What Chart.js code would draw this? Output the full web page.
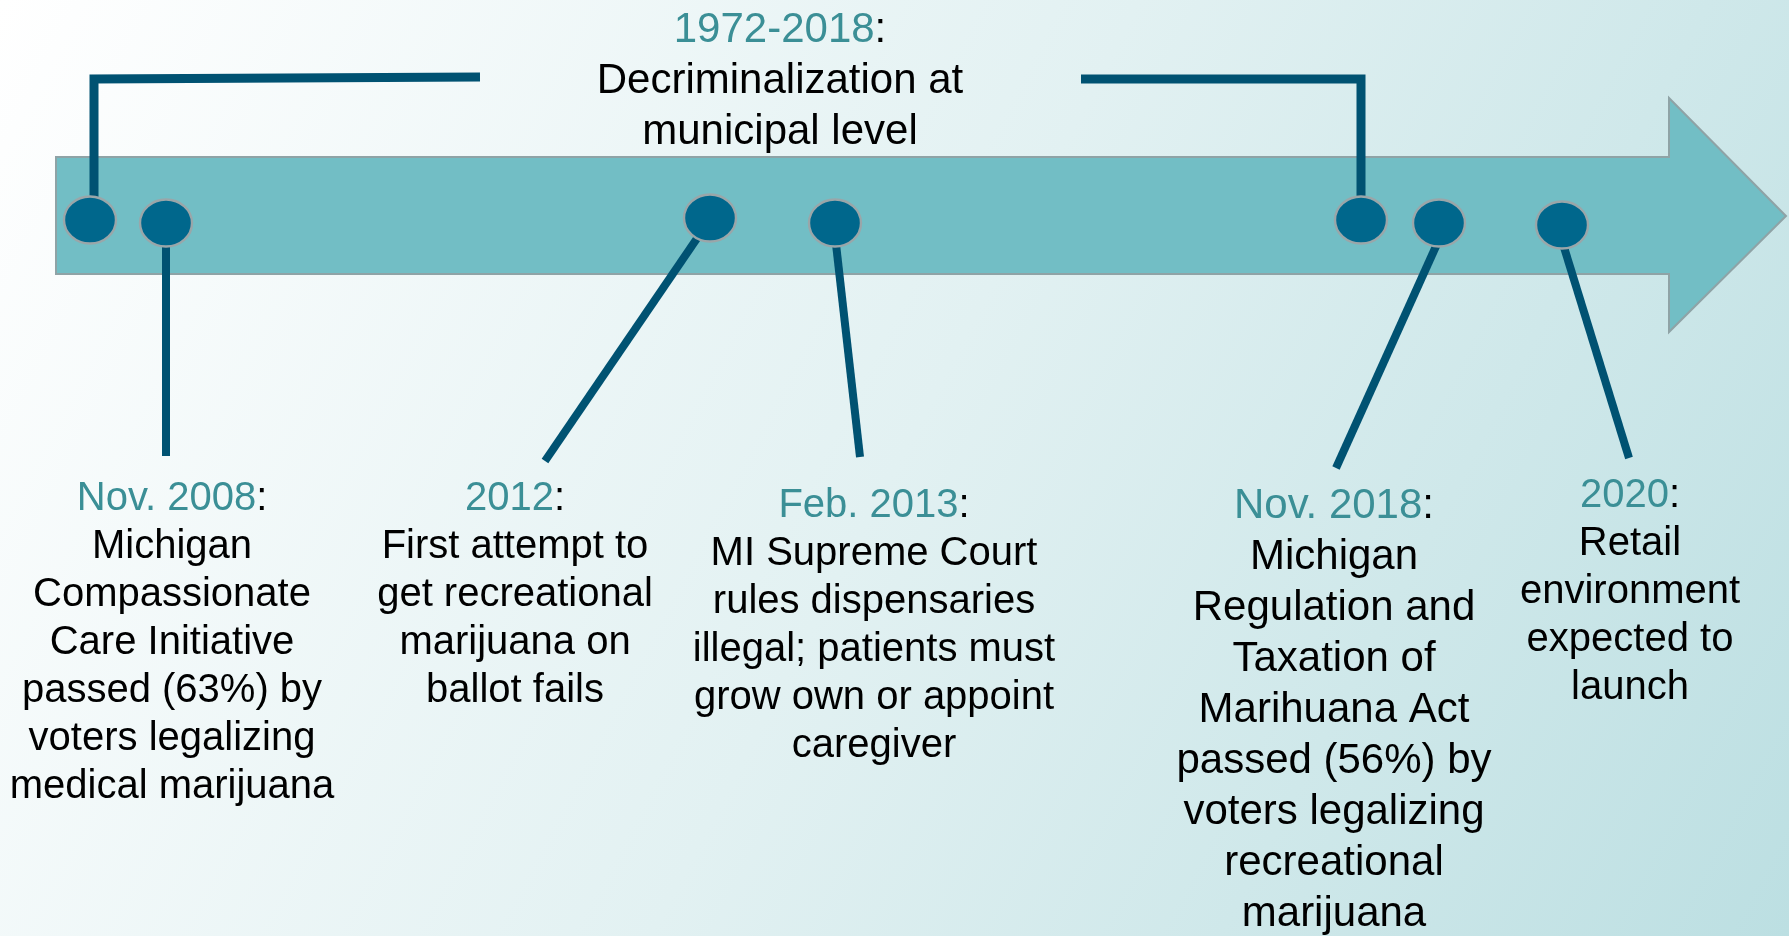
<!DOCTYPE html>
<html>
<head>
<meta charset="utf-8">
<script src="https://cdn.jsdelivr.net/npm/chart.js@4.4.1/dist/chart.umd.min.js"></script>
<style>
  html, body { margin: 0; padding: 0; background: #ffffff; }
  #wrap { width: 1789px; height: 936px; position: relative; }
</style>
</head>
<body>
<div id="wrap"><canvas id="c"></canvas></div>
<script>
// ---------- DATA ----------
const eventDates = ['1972-2018', 'Nov. 2008', '2012', 'Feb. 2013', 'Nov. 2018', '2020'];
const eventTexts = [
  ['Decriminalization at', 'municipal level'],
  ['Michigan', 'Compassionate', 'Care Initiative', 'passed (63%) by', 'voters legalizing', 'medical marijuana'],
  ['First attempt to', 'get recreational', 'marijuana on', 'ballot fails'],
  ['MI Supreme Court', 'rules dispensaries', 'illegal; patients must', 'grow own or appoint', 'caregiver'],
  ['Michigan', 'Regulation and', 'Taxation of', 'Marihuana Act', 'passed (56%) by', 'voters legalizing', 'recreational', 'marijuana'],
  ['Retail', 'environment', 'expected to', 'launch']
];
// label anchor (timeline units) for each event block
const labelX = [780, 172, 515, 874, 1334, 1630];
const labelY = [42, 510, 510, 517, 518, 507];     // first baseline
const labelStep = [51, 48, 48, 48, 51, 48];
const labelSize = [42, 40, 40, 40, 42, 40];

// markers along the timeline arrow
const markerX = [90, 166, 710, 835, 1361, 1439, 1562];
const markerY = [220, 223, 218, 223, 220, 223, 225];

// callout connectors (one per event)
const connectors = [
  [[94, 199], [94, 79], [480, 77]],
  [[1081, 79], [1361, 79], [1361, 199]],
  [[166, 244], [166, 456]],
  [[700, 234], [545, 461]],
  [[836, 244], [860, 457]],
  [[1437, 244], [1336, 468]],
  [[1563, 244], [1629, 458]]
];

// timeline arrow outline
const arrowShape = [[56, 157], [1669, 157], [1669, 98], [1786, 216], [1669, 332], [1669, 274], [56, 274]];

// ---------- STYLE ----------
const C_DATE = '#3b8f96';
const C_TEXT = '#000000';
const C_LINE = '#005272';
const C_DOT = '#00678c';
const C_DOT_EDGE = '#9aa6a9';
const C_BAR = '#72bec5';
const C_BAR_EDGE = '#8fa3a6';
const FONT = '"Liberation Sans", Arial, Helvetica, sans-serif';

// ellipse point style
function ellipseImg() {
  const cv = document.createElement('canvas');
  cv.width = 58; cv.height = 52;
  const g = cv.getContext('2d');
  g.beginPath();
  g.ellipse(29, 26, 26, 23.5, 0, 0, Math.PI * 2);
  g.fillStyle = C_DOT; g.fill();
  g.lineWidth = 2.4; g.strokeStyle = C_DOT_EDGE; g.stroke();
  return cv;
}

const bgPlugin = {
  id: 'bg',
  beforeDraw(chart) {
    const { ctx, width, height } = chart;
    const xs = chart.scales.x, ys = chart.scales.y;
    ctx.save();
    const gr = ctx.createLinearGradient(0, 0, width, height);
    gr.addColorStop(0, '#ffffff');
    gr.addColorStop(0.5, '#e2f1f2');
    gr.addColorStop(1, '#bcdfe2');
    ctx.fillStyle = gr;
    ctx.fillRect(0, 0, width, height);
    // arrow
    ctx.beginPath();
    arrowShape.forEach((p, i) => {
      const px = xs.getPixelForValue(p[0]), py = ys.getPixelForValue(p[1]);
      if (i === 0) ctx.moveTo(px, py); else ctx.lineTo(px, py);
    });
    ctx.closePath();
    ctx.fillStyle = C_BAR; ctx.fill();
    ctx.lineWidth = 2; ctx.strokeStyle = C_BAR_EDGE; ctx.stroke();
    ctx.restore();
  }
};

const textPlugin = {
  id: 'texts',
  afterDraw(chart) {
    const { ctx } = chart;
    const xs = chart.scales.x, ys = chart.scales.y;
    ctx.save();
    ctx.textBaseline = 'alphabetic';
    eventDates.forEach((d, i) => {
      const size = labelSize[i];
      ctx.font = size + 'px ' + FONT;
      const cx = xs.getPixelForValue(labelX[i]);
      let y = ys.getPixelForValue(labelY[i]);
      const step = ys.getPixelForValue(labelY[i] + labelStep[i]) - y;
      // date line with black colon
      const wd = ctx.measureText(d).width, wc = ctx.measureText(':').width;
      const x0 = cx - (wd + wc) / 2;
      ctx.textAlign = 'left';
      ctx.fillStyle = C_DATE; ctx.fillText(d, x0, y);
      ctx.fillStyle = C_TEXT; ctx.fillText(':', x0 + wd, y);
      ctx.textAlign = 'center';
      eventTexts[i].forEach((line) => {
        y += step;
        ctx.fillText(line, cx, y);
      });
    });
    ctx.restore();
  }
};

const datasets = [];
datasets.push({
  label: 'markers',
  data: markerX.map((x, i) => ({ x, y: markerY[i] })),
  pointStyle: ellipseImg(),
  pointRadius: 26,
  showLine: false,
  order: 0,
  clip: false
});
connectors.forEach((seg, i) => {
  datasets.push({
    label: 'conn' + i,
    data: seg.map(p => ({ x: p[0], y: p[1] })),
    showLine: true,
    borderColor: C_LINE,
    borderWidth: i < 2 ? 9 : 8,
    borderCapStyle: 'butt',
    borderJoinStyle: 'miter',
    pointRadius: 0,
    tension: 0,
    order: 1,
    clip: false
  });
});

new Chart(document.getElementById('c'), {
  type: 'scatter',
  data: { datasets },
  options: {
    responsive: true,
    maintainAspectRatio: false,
    animation: false,
    events: [],
    layout: { padding: 0, autoPadding: false },
    plugins: { legend: { display: false }, tooltip: { enabled: false } },
    scales: {
      x: { type: 'linear', min: 0, max: 1789, display: false },
      y: { type: 'linear', min: 0, max: 936, reverse: true, display: false }
    }
  },
  plugins: [bgPlugin, textPlugin]
});
</script>
</body>
</html>
